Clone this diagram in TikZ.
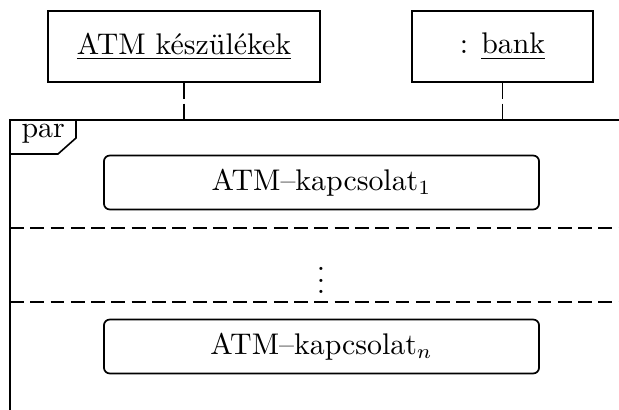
\documentclass[tikz,border=0pt]{standalone}
\begin{document}
\begin{tikzpicture}[x=0.345pt,y=-0.345pt,
  every node/.style={font=\fontsize{10.3pt}{12pt}\selectfont},
  objbox/.style={draw, line width=0.6pt, minimum height=24.5pt, inner sep=0pt},
  fragbox/.style={draw, line width=0.6pt, rounded corners=2pt,
    minimum width=150.1pt, minimum height=18.6pt, inner sep=0pt},
  lifeline/.style={line width=0.55pt, dash pattern=on 5.5pt off 1.7pt},
  separator/.style={line width=0.55pt, dash pattern=on 4.8pt off 2.2pt},
  framebox/.style={line width=0.65pt}]
\useasboundingbox (0,0) rectangle (619,410);

% participants
\node[objbox, minimum width=93.8pt] (atm) at (184,46.5) {\underline{ATM készülékek}};
\node[objbox, minimum width=62.4pt] (bank) at (502.5,46.5) {: \underline{bank}};

% combined fragment frame (continues past the page)
\coordinate (ftl) at (10,120);
\coordinate (ftr) at (619,120);
\coordinate (fbl) at (10,410);
\draw[framebox] (fbl) -- (ftl) -- (ftr);

% lifelines down to the frame
\draw[lifeline] (atm.south) -- (atm.south |- ftl);
\draw[lifeline] (bank.south) -- (bank.south |- ftl);

% operator tag
\coordinate (tagbl) at (10,154);
\coordinate (tagb) at (58,154);
\coordinate (tagr) at (76,138);
\coordinate (tagt) at (76,120);
\draw[line width=0.55pt] (tagbl) -- (tagb) -- (tagr) -- (tagt);
\node[anchor=base west, inner sep=0pt] (op) at (21,138) {par};

% operands
\node[fragbox] (k1) at (321.5,182.5) {ATM--kapcsolat$_1$};

\coordinate (s1l) at (10,228);
\coordinate (s1r) at (619,228);
\draw[separator] (s1l) -- (s1r);

\node[inner sep=0pt] (dots) at (321,272) {$\vdots$};

\coordinate (s2l) at (10,302);
\coordinate (s2r) at (619,302);
\draw[separator] (s2l) -- (s2r);

\node[fragbox] (kn) at (321.5,346.5) {ATM--kapcsolat$_n$};
\end{tikzpicture}
\end{document}
